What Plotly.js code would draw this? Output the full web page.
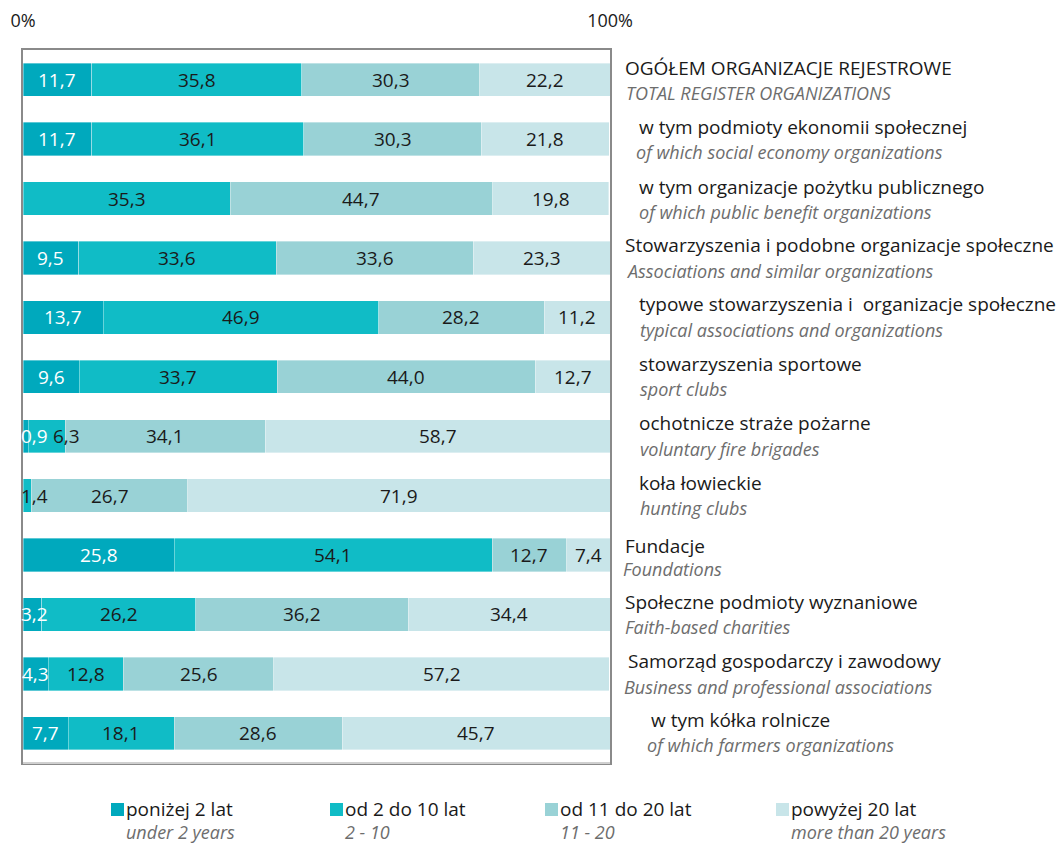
<!DOCTYPE html>
<html>
<head>
<meta charset="utf-8">
<script src="https://cdn.plot.ly/plotly-3.0.1.min.js"></script>
<style>html,body{margin:0;padding:0;background:#fff;}#chart{width:1063px;height:846px;}</style>
</head>
<body>
<div id="chart"></div>
<script>
const categories = [
  "OGÓŁEM ORGANIZACJE REJESTROWE",
  "w tym podmioty ekonomii społecznej",
  "w tym organizacje pożytku publicznego",
  "Stowarzyszenia i podobne organizacje społeczne",
  "typowe stowarzyszenia i  organizacje społeczne",
  "stowarzyszenia sportowe",
  "ochotnicze straże pożarne",
  "koła łowieckie",
  "Fundacje",
  "Społeczne podmioty wyznaniowe",
  "Samorząd gospodarczy i zawodowy",
  "w tym kółka rolnicze"
];
const categoriesEn = [
  "TOTAL REGISTER ORGANIZATIONS",
  "of which social economy organizations",
  "of which public benefit organizations",
  "Associations and similar organizations",
  "typical associations and organizations",
  "sport clubs",
  "voluntary fire brigades",
  "hunting clubs",
  "Foundations",
  "Faith-based charities",
  "Business and professional associations",
  "of which farmers organizations"
];
const under2     = [11.7, 11.7, null, 9.5, 13.7, 9.6, 0.9, null, 25.8, 3.2, 4.3, 7.7];
const from2to10  = [35.8, 36.1, 35.3, 33.6, 46.9, 33.7, 6.3, 1.4, 54.1, 26.2, 12.8, 18.1];
const from11to20 = [30.3, 30.3, 44.7, 33.6, 28.2, 44.0, 34.1, 26.7, 12.7, 36.2, 25.6, 28.6];
const over20     = [22.2, 21.8, 19.8, 23.3, 11.2, 12.7, 58.7, 71.9, 7.4, 34.4, 57.2, 45.7];
const seriesNames   = ["poniżej 2 lat", "od 2 do 10 lat", "od 11 do 20 lat", "powyżej 20 lat"];
const seriesNamesEn = ["under 2 years", "2 - 10", "11 - 20", "more than 20 years"];
const tickLabels = ["0%", "100%"];

// ---------- styles / layout geometry ----------
const W = 1063, H = 846;
const M = {l: 23, r: 453, t: 50, b: 83};
const plotW = W - M.l - M.r, plotH = H - M.t - M.b;
const pxPerUnit = plotW / 100;
const colors = ["#00a9bd", "#10bcc6", "#99d2d6", "#c8e5e9"];
const textColors = ["#ffffff", "#1a1a1a", "#1a1a1a", "#1a1a1a"];
const FONT = "Open Sans, Liberation Sans, sans-serif";
const FS = 19;
const fmt = v => v.toFixed(1).replace(".", ",");
const textWidth = s => s.split("").reduce((w, ch) => w + (ch === "," ? 0.25 : 0.572) * FS, 0);

const allSeries = [under2, from2to10, from11to20, over20];
const annotations = [];

// bars
const traces = allSeries.map((vals, i) => ({
  type: "bar", orientation: "h",
  x: vals, y: categories,
  name: seriesNames[i],
  marker: {color: colors[i], line: {color: "rgba(255,255,255,0.6)", width: 0.6}},
  width: 0.56,
  textposition: "none",
  hoverinfo: "none",
  showlegend: false
}));

// value labels: centred in their segment, pushed right if they would collide
categories.forEach((c, j) => {
  let start = 0, prevRight = -Infinity;
  allSeries.forEach((vals, i) => {
    const v = vals[j];
    if (v === null || v === undefined) return;
    const s = fmt(v);
    const w = textWidth(s);
    const center = (start + v / 2) * pxPerUnit;
    let left = center - w / 2;
    left = Math.max(left, -2, prevRight + 6);
    const shift = left + w / 2 - center;
    annotations.push({
      x: start + v / 2, y: c, xref: "x", yref: "y",
      text: s, showarrow: false, xanchor: "center", yanchor: "middle",
      xshift: shift, borderpad: 0,
      font: {family: FONT, size: FS, color: textColors[i]}
    });
    prevRight = left + w;
    start += v;
  });
});

// right-side category labels
const indentPl = [14, 28, 28, 14, 28, 28, 28, 28, 14, 14, 17, 40];
const indentEn = [15, 25, 28, 15, 29, 29, 29, 29, 12, 14, 13, 36];
const shiftPl  = [12, 12, 12, 13, 13, 13, 13, 13, 9, 12, 13, 13];
const shiftEn  = [-13, -13, -13, -13, -13, -12, -13, -12, -14, -13, -13, -12];
categories.forEach((c, j) => {
  annotations.push({
    x: 1, xref: "paper", y: c, yref: "y", xanchor: "left", yanchor: "middle",
    xshift: indentPl[j], yshift: shiftPl[j], showarrow: false, borderpad: 0,
    text: c, font: {family: FONT, size: FS, color: "#1a1a1a"}
  });
  annotations.push({
    x: 1, xref: "paper", y: c, yref: "y", xanchor: "left", yanchor: "middle",
    xshift: indentEn[j], yshift: shiftEn[j], showarrow: false, borderpad: 0,
    text: "<i>" + categoriesEn[j] + "</i>", font: {family: FONT, size: FS - 1, color: "#6d6d6d"}
  });
});

// manual legend (pixel geometry converted to paper coords)
const px2x = px => (px - M.l) / plotW;
const px2y = py => (H - M.b - py) / plotH;
const legendX = [111, 330, 545, 776];
const shapes = [{
  type: "line", xref: "paper", yref: "paper", x0: 0, x1: 1, y0: 0, y1: 0,
  line: {color: "#d0d0d0", width: 2}
}];
seriesNames.forEach((n, i) => {
  const x0 = legendX[i];
  shapes.push({
    type: "rect", xref: "paper", yref: "paper",
    x0: px2x(x0), x1: px2x(x0 + 13), y0: px2y(803), y1: px2y(816),
    fillcolor: colors[i], line: {width: 0}
  });
  annotations.push({
    x: px2x(x0 + 14), y: px2y(809), xref: "paper", yref: "paper",
    xanchor: "left", yanchor: "middle", showarrow: false, borderpad: 0,
    text: n, font: {family: FONT, size: FS, color: "#1a1a1a"}
  });
  annotations.push({
    x: px2x(x0 + 14), y: px2y(832), xref: "paper", yref: "paper",
    xanchor: "left", yanchor: "middle", showarrow: false, borderpad: 0,
    text: "<i>" + seriesNamesEn[i] + "</i>", font: {family: FONT, size: FS - 1, color: "#6d6d6d"}
  });
});

const layout = {
  width: W, height: H,
  margin: M,
  paper_bgcolor: "#ffffff", plot_bgcolor: "#ffffff",
  barmode: "stack",
  font: {family: FONT, size: FS, color: "#1a1a1a"},
  xaxis: {
    range: [0, 100], side: "top",
    tickvals: [0, 100], ticktext: tickLabels,
    ticks: "", showgrid: false, zeroline: false,
    showline: true, linecolor: "#8a8a8a", linewidth: 2, mirror: true,
    ticklabelstandoff: 14,
    tickfont: {family: FONT, size: FS - 1, color: "#1a1a1a"},
    fixedrange: true
  },
  yaxis: {
    autorange: "reversed", showticklabels: false, ticks: "",
    showgrid: false, zeroline: false,
    showline: true, linecolor: "#8a8a8a", linewidth: 2, mirror: true,
    fixedrange: true
  },
  shapes: shapes,
  showlegend: false,
  annotations: annotations
};

Plotly.newPlot("chart", traces, layout, {displayModeBar: false, staticPlot: true});
</script>
</body>
</html>
